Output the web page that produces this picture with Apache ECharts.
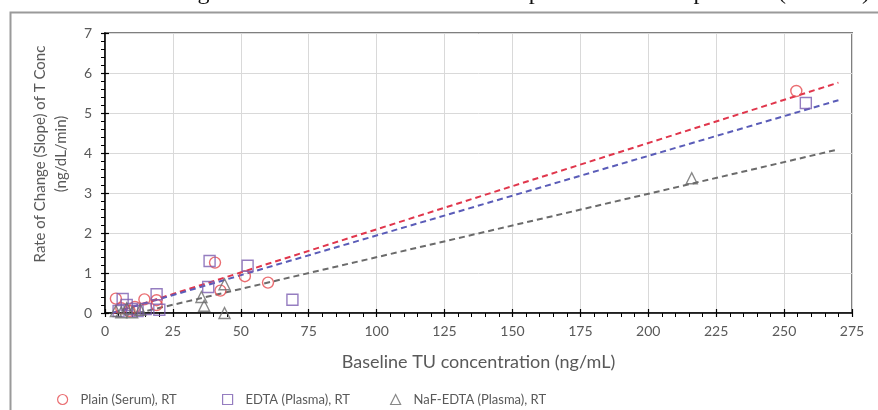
<!DOCTYPE html>
<html>
<head>
<meta charset="utf-8">
<script src="https://cdn.jsdelivr.net/npm/echarts@6/dist/echarts.min.js"></script>
<style>
  html, body { margin: 0; padding: 0; background: #fff; }
  #chart { width: 878px; height: 410px; }
</style>
</head>
<body>
<div id="chart"></div>
<script>
// Scatter points: [baseline TU (ng/mL), slope (ng/dL/min)]
const plainSerum = [
  [4, 0.36], [6, 0.12], [9, 0.05], [11, 0.15], [14.5, 0.34], [19, 0.32], [19, 0.2],
  [40.5, 1.26], [42.5, 0.56], [51.5, 0.92], [60, 0.76], [254.5, 5.55]
];
const edtaPlasma = [
  [5, 0.05], [6.5, 0.35], [8, 0.2], [10, 0.1], [12, 0.05], [15, 0.1], [19, 0.47],
  [20, 0.08], [38, 0.65], [38.5, 1.3], [52.5, 1.18], [69, 0.33], [258, 5.25]
];
const nafEdtaPlasma = [
  [4, 0.05], [6, 0.02], [8, 0.12], [10, 0.02], [13, 0.08], [35.5, 0.4], [36.5, 0.18],
  [44, 0.72], [44, 0.0], [216, 3.37]
];

// Linear trend lines (start and end points)
const plainTrend = [[3, 0.0], [270, 5.76]];
const edtaTrend = [[3, 0.01], [270, 5.32]];
const nafTrend = [[12, 0.0], [270, 4.09]];

const seriesNames = ['Plain (Serum), RT', 'EDTA (Plasma), RT', 'NaF-EDTA (Plasma), RT'];
const chartTitle = 'Linear regression of TU between Endo Hospital at room temperature (RawTU)';
const xTitle = 'Baseline TU concentration (ng/mL)';
const yTitleLines = ['Rate of Change (Slope) of T Conc', '(ng/dL/min)'];

const RED = '#e5484d', PURPLE = '#7a5cb0', GREY = '#6a6a6a';
const RED_LINE = '#e0364c', PURPLE_LINE = '#5a5cb8', GREY_LINE = '#6b6b6b';
const LABEL = '#595959';
const FONT = 'Lato, "Open Sans", sans-serif';

const chart = echarts.init(document.getElementById('chart'), null, { renderer: 'canvas' });

function axisX(idx) {
  const main = idx === 0;
  return {
    type: 'value', min: 0, max: 275, interval: 25, position: 'bottom',
    name: main ? xTitle : '', nameLocation: 'middle', nameGap: 40,
    nameTextStyle: { color: LABEL, fontSize: 18, fontFamily: FONT },
    axisLine: { show: main, onZero: false, lineStyle: { color: '#000', width: 1.5 } },
    axisTick: { show: true, inside: !main, length: 4, lineStyle: { color: '#000', width: 1.2 } },
    minorTick: { show: main, splitNumber: 5, length: 4, lineStyle: { color: '#000', width: 1 } },
    axisLabel: { show: main, color: LABEL, fontSize: 14, fontFamily: FONT, margin: 11 },
    splitLine: { show: main, lineStyle: { color: '#d9d9d9', width: 1 } }
  };
}
function axisY(idx) {
  const main = idx === 0;
  return {
    type: 'value', min: 0, max: 7, interval: 1, position: 'left',
    axisLine: { show: main, onZero: false, lineStyle: { color: '#000', width: 1.5 } },
    axisTick: { show: true, inside: !main, length: 4, lineStyle: { color: '#000', width: 1.2 } },
    minorTick: { show: main, splitNumber: 5, length: 4, lineStyle: { color: '#000', width: 1 } },
    axisLabel: { show: main, color: LABEL, fontSize: 14, fontFamily: FONT, margin: 13 },
    splitLine: { show: main, lineStyle: { color: '#d9d9d9', width: 1 } }
  };
}

function legendAt(left, name, icon, color) {
  return {
    left: left, top: 388, itemWidth: 10, itemHeight: 10, itemGap: 0,
    selectedMode: false,
    formatter: '{t|{name}}',
    textStyle: {
      color: LABEL, fontSize: 13, fontFamily: FONT,
      rich: { t: { color: LABEL, fontSize: 13, fontFamily: FONT, padding: [0, 0, 0, 8] } }
    },
    data: [{ name: name, icon: icon, itemStyle: { color: 'rgba(0,0,0,0)', borderColor: color, borderWidth: 1.2 } }]
  };
}

function scatter(name, data, symbol, color, size) {
  return {
    name: name, type: 'scatter', data: data, symbol: symbol, symbolSize: size,
    itemStyle: { color: 'rgba(255,255,255,0)', borderColor: color, borderWidth: 1.4 },
    z: 3
  };
}
function trend(data, color) {
  return {
    type: 'line', data: data, showSymbol: false, symbol: 'none', silent: true,
    lineStyle: { color: color, width: 2, type: [6, 4] }, z: 2
  };
}

chart.setOption({
  animation: false,
  backgroundColor: '#fff',
  grid: {
    left: 105, right: 26, top: 33, bottom: 97,
    show: true, borderColor: '#7f7f7f', borderWidth: 2, backgroundColor: '#fff'
  },
  xAxis: [axisX(0), axisX(1)],
  yAxis: [axisY(0), axisY(1)],
  legend: [
    legendAt(52, seriesNames[0], 'circle', RED),
    legendAt(217, seriesNames[1], 'rect', PURPLE),
    legendAt(385, seriesNames[2], 'triangle', GREY)
  ],
  graphic: [
    { type: 'rect', left: 8, top: 10, shape: { x: 0, y: 0, width: 900, height: 420 },
      style: { fill: 'none', stroke: '#9a9a9a', lineWidth: 2 }, silent: true, z: -1 },
    { type: 'text', x: 870, y: -7,
      style: { text: chartTitle, fill: '#111', font: '24px "Liberation Serif", "Times New Roman", serif',
               textAlign: 'right', textVerticalAlign: 'middle' } },
    { type: 'text', x: 40, y: 154, rotation: Math.PI / 2,
      style: { text: yTitleLines[0], fill: LABEL, font: '15px ' + FONT, textAlign: 'center', textVerticalAlign: 'middle' } },
    { type: 'text', x: 61, y: 154, rotation: Math.PI / 2,
      style: { text: yTitleLines[1], fill: LABEL, font: '15px ' + FONT, textAlign: 'center', textVerticalAlign: 'middle' } }
  ],
  series: [
    trend(plainTrend, RED_LINE),
    trend(edtaTrend, PURPLE_LINE),
    trend(nafTrend, GREY_LINE),
    scatter(seriesNames[0], plainSerum, 'circle', RED, 11),
    scatter(seriesNames[1], edtaPlasma, 'rect', PURPLE, 11),
    scatter(seriesNames[2], nafEdtaPlasma, 'triangle', GREY, 11)
  ]
});
</script>
</body>
</html>
